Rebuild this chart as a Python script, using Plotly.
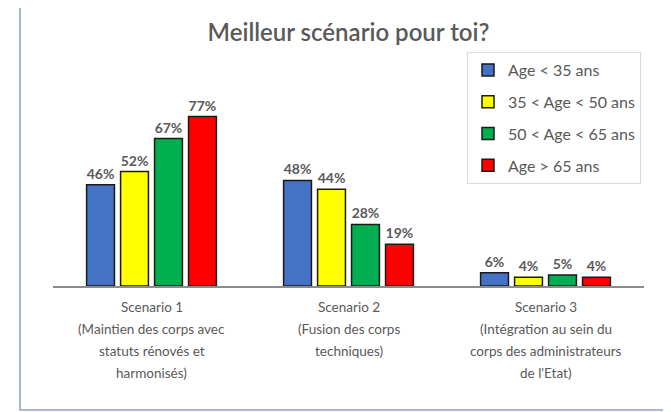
import plotly.graph_objects as go

categories = ["Scenario 1", "Scenario 2", "Scenario 3"]
category_lines = [
    ["Scenario 1", "(Maintien des corps avec", "statuts rénovés et", "harmonisés)"],
    ["Scenario 2", "(Fusion des corps", "techniques)"],
    ["Scenario 3", "(Intégration au sein du", "corps des administrateurs", "de l'Etat)"],
]
series_names = ["Age < 35 ans", "35 < Age < 50 ans", "50 < Age < 65 ans", "Age > 65 ans"]
age_lt35 = [0.46, 0.48, 0.06]
age_35_50 = [0.52, 0.44, 0.04]
age_50_65 = [0.67, 0.28, 0.05]
age_gt65 = [0.77, 0.19, 0.04]
series_values = [age_lt35, age_35_50, age_50_65, age_gt65]
colors = ["#4472C4", "#FFFF00", "#00B050", "#FF0000"]

FONT = "Lato"
GRAY = "#595959"

fig = go.Figure()
for i, (name, vals, col) in enumerate(zip(series_names, series_values, colors)):
    fig.add_trace(go.Bar(
        x=categories, y=vals, name=name, legendgroup=f"g{i}",
        marker=dict(color=col, line=dict(color="#1a1a1a", width=1.5)),
        texttemplate="%{y:.0%}", textposition="outside",
        textfont=dict(family=FONT, size=14, color=GRAY, weight="bold"),
        cliponaxis=False,
    ))

annotations = []
for cat, lines in zip(categories, category_lines):
    for j, line in enumerate(lines):
        annotations.append(dict(
            x=cat, y=0, xref="x", yref="y", text=line, showarrow=False,
            yanchor="middle", yshift=-21 - 22 * j,
            font=dict(family=FONT, size=13.5, color=GRAY),
        ))

# page body has an 8px margin: positions below are in window pixels minus 8
OFF = 8
W, H = 671 - OFF, 412 - OFF
L, R, T, B = 53 - OFF, 644 - OFF, 88 - OFF, 286 - OFF

def px_x(px):
    return (px - OFF - L) / (R - L)

def px_y(py):
    return (B - (py - OFF)) / (B - T)

fig.update_layout(
    width=W, height=H,
    margin=dict(l=L, r=W - R, t=T, b=H - B),
    paper_bgcolor="white", plot_bgcolor="white",
    barmode="group", bargap=0.31, bargroupgap=0.18,
    title=dict(text="Meilleur scénario pour toi?", x=0.5, xref="paper",
               y=1 - (33 - OFF) / H, yanchor="middle",
               font=dict(family=FONT, size=24, color=GRAY, weight=600)),
    xaxis=dict(showline=True, linecolor="#8c8c8c", linewidth=1.5,
               showticklabels=False, ticks="", showgrid=False, zeroline=False,
               fixedrange=True),
    yaxis=dict(range=[0, 0.9], visible=False, showgrid=False, zeroline=False),
    legend=dict(x=px_x(467), y=px_y(52), xanchor="left", yanchor="top",
                bordercolor="#D9D9D9", borderwidth=1, bgcolor="white",
                font=dict(family=FONT, size=16, color=GRAY),
                tracegroupgap=8, traceorder="grouped", entrywidth=185),
    annotations=annotations,
    shapes=[dict(type="rect", xref="paper", yref="paper",
                 x0=px_x(20), x1=px_x(700), y0=px_y(410), y1=px_y(5),
                 line=dict(color="#8EA0C8", width=1.5), layer="below")],
    showlegend=True,
)

fig.write_html("out.html")
